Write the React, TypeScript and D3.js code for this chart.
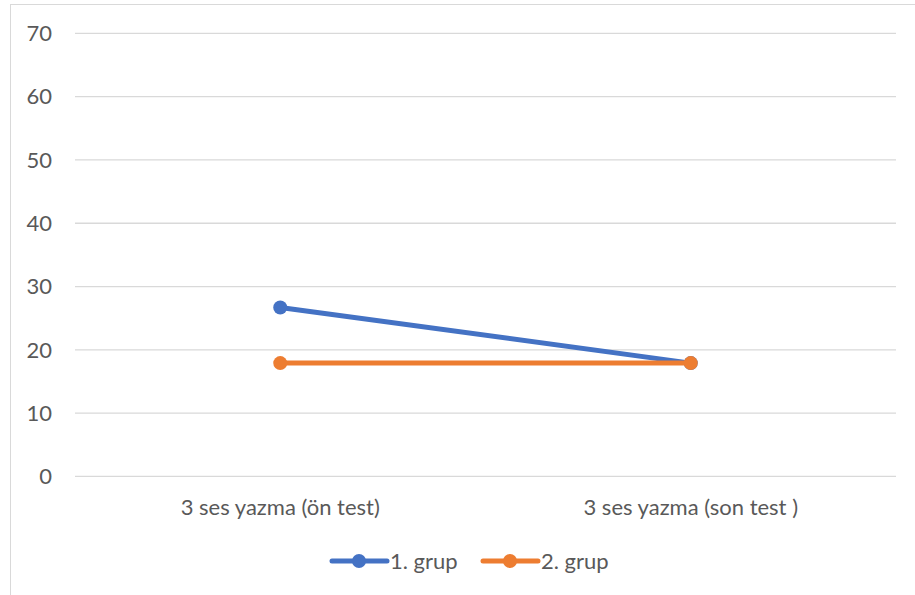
import React from "react";
import * as d3 from "d3";

const categories = ["3 ses yazma (ön test)", "3 ses yazma (son test )"];
const seriesNames = ["1. grup", "2. grup"];
const group1 = [26.7, 17.9];
const group2 = [17.9, 17.9];
const yTicks = [0, 10, 20, 30, 40, 50, 60, 70];
const colors = ["#4472C4", "#ED7D31"];

const W = 915;
const H = 595;
const FONT = "Lato, 'Open Sans', sans-serif";
const FS = 22;

export default function App() {
  const x = d3.scaleBand<string>().domain(categories).range([75, 896]);
  const y = d3.scaleLinear().domain([0, 70]).range([476.4, 33.4]);
  const cx = (i: number) => (x(categories[i]) as number) + x.bandwidth() / 2;
  const line = d3
    .line<number>()
    .x((_, i) => cx(i))
    .y((d) => y(d));
  const series = [group1, group2];
  const legendX = [332, 483];

  return (
    <svg
      width={W}
      height={H}
      style={{ position: "absolute", left: 0, top: 0, background: "#fff" }}
      fontFamily={FONT}
    >
      <rect x={10.5} y={4.5} width={W + 10} height={H + 10} fill="#fff" stroke="#d9d9d9" strokeWidth={1} />
      {yTicks.map((t) => (
        <g key={t}>
          <line x1={75} x2={896} y1={y(t)} y2={y(t)} stroke="#d9d9d9" strokeWidth={1.3} />
          <text x={52} y={y(t)} dy="0.35em" textAnchor="end" fontSize={FS} fill="#595959">
            {t}
          </text>
        </g>
      ))}
      {categories.map((c, i) => (
        <text key={c} x={cx(i)} y={507} dy="0.35em" textAnchor="middle" fontSize={FS} fill="#595959">
          {c}
        </text>
      ))}
      {series.map((s, si) => (
        <g key={si}>
          <path d={line(s) || ""} fill="none" stroke={colors[si]} strokeWidth={5} strokeLinecap="round" />
          {s.map((v, i) => (
            <circle key={i} cx={cx(i)} cy={y(v)} r={7} fill={colors[si]} />
          ))}
        </g>
      ))}
      {seriesNames.map((n, si) => {
        const lx = legendX[si];
        return (
          <g key={n}>
            <line x1={lx} x2={lx + 55} y1={561} y2={561} stroke={colors[si]} strokeWidth={5} strokeLinecap="round" />
            <circle cx={lx + 27} cy={561} r={7} fill={colors[si]} />
            <text x={lx + 58} y={561} dy="0.35em" fontSize={FS} fill="#595959">
              {n}
            </text>
          </g>
        );
      })}
    </svg>
  );
}
